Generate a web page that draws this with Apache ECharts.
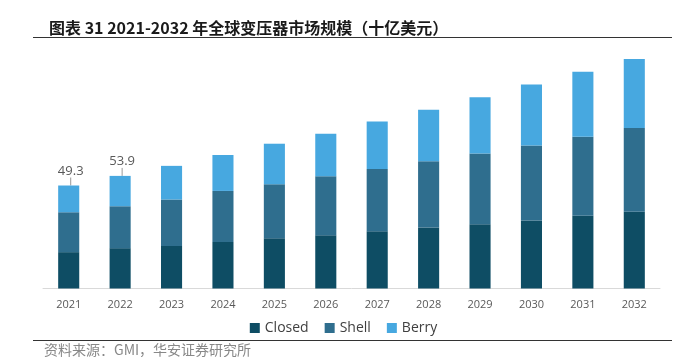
<!DOCTYPE html>
<html>
<head>
<meta charset="utf-8">
<script src="https://cdn.jsdelivr.net/npm/echarts@6/dist/echarts.min.js"></script>
<style>html,body{margin:0;padding:0;background:#fff}#c{width:687px;height:357px}</style>
</head>
<body>
<div id="c"></div>
<script>
const years = ['2021','2022','2023','2024','2025','2026','2027','2028','2029','2030','2031','2032'];
const closed = [17.4, 19.3, 20.4, 22.3, 24.0, 25.5, 27.4, 29.2, 30.8, 32.6, 34.8, 36.7];
const shell  = [19.1, 20.1, 22.2, 24.4, 25.9, 28.2, 29.8, 31.7, 33.8, 35.9, 37.8, 40.1];
const berry  = [12.8, 14.5, 16.1, 17.2, 19.4, 20.4, 22.7, 24.7, 26.9, 29.1, 31.1, 33.0];
const totalLabels = ['49.3', '53.9', '', '', '', '', '', '', '', '', '', ''];
const titleText = '图表 31 2021-2032 年全球变压器市场规模（十亿美元）';
const sourceText = '资料来源：GMI，华安证券研究所';

const berryData = berry.map((v, i) => totalLabels[i]
  ? {value: v, label: {show: true}, labelLine: {show: true}}
  : {value: v, label: {show: false}, labelLine: {show: false}});

const chart = echarts.init(document.getElementById('c'), null, {renderer: 'canvas'});
const barW = '41%';
chart.setOption({
  animation: false,
  backgroundColor: '#fff',
  title: {
    text: titleText,
    left: 44, top: 15,
    textStyle: {fontFamily: 'Noto Sans CJK SC', fontWeight: 'bold', fontSize: 16, color: '#1a1a1a'}
  },
  graphic: [
    {type: 'line', shape: {x1: 33, y1: 37.5, x2: 672, y2: 37.5}, style: {stroke: '#333', lineWidth: 1.2}},
    {type: 'line', shape: {x1: 33, y1: 340.5, x2: 672, y2: 340.5}, style: {stroke: '#333', lineWidth: 1.2}},
    {type: 'text', left: 44, top: 343, style: {text: sourceText, fontFamily: 'Noto Sans CJK SC', fontSize: 14, fill: '#888'}}
  ],
  legend: {
    bottom: 17, left: 'center',
    itemWidth: 10, itemHeight: 10, itemGap: 16,
    icon: 'rect',
    textStyle: {fontFamily: 'Open Sans', fontSize: 14, color: '#404040'},
    data: ['Closed', 'Shell', 'Berry']
  },
  grid: {left: 43, right: 27, top: 37.8, bottom: 68.5, containLabel: false},
  xAxis: {
    type: 'category', data: years,
    axisLine: {show: true, lineStyle: {color: '#d9d9d9'}},
    axisTick: {show: false},
    axisLabel: {fontFamily: 'Open Sans', fontSize: 11, color: '#595959', margin: 11}
  },
  yAxis: {
    type: 'value', min: 0, max: 120, show: false, splitLine: {show: false}
  },
  series: [
    {name: 'Closed', type: 'bar', stack: 't', data: closed, barWidth: barW, itemStyle: {color: '#0e4d64'}},
    {name: 'Shell', type: 'bar', stack: 't', data: shell, barWidth: barW, itemStyle: {color: '#2f6e8e'}},
    {name: 'Berry', type: 'bar', stack: 't', data: berryData, barWidth: barW, itemStyle: {color: '#47a8e0'},
      label: {
        show: false, position: 'top', distance: 4,
        formatter: p => totalLabels[p.dataIndex],
        fontFamily: 'Open Sans', fontSize: 13, color: '#595959'
      },
      labelLayout: {dx: 2, dy: -4},
      labelLine: {show: false, lineStyle: {color: '#999', width: 1}}
    }
  ]
});
</script>
</body>
</html>
